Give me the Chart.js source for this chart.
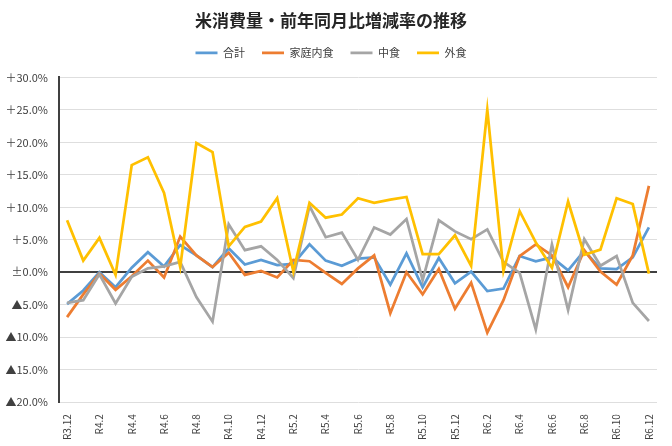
<!DOCTYPE html>
<html lang="ja">
<head>
<meta charset="utf-8">
<title>米消費量・前年同月比増減率の推移</title>
<script src="https://cdn.jsdelivr.net/npm/chart.js@4/dist/chart.umd.min.js"></script>
<style>
  body { margin: 0; background: #fff; }
  #wrap { width: 672px; height: 446px; }
</style>
</head>
<body>
<div id="wrap"><canvas id="riceChart" width="672" height="446"></canvas></div>
<script>
// Months (R3.12 - R6.12)
const months = [
  'R3.12',
  'R4.1', 'R4.2', 'R4.3', 'R4.4', 'R4.5', 'R4.6', 'R4.7', 'R4.8', 'R4.9', 'R4.10', 'R4.11', 'R4.12',
  'R5.1', 'R5.2', 'R5.3', 'R5.4', 'R5.5', 'R5.6', 'R5.7', 'R5.8', 'R5.9', 'R5.10', 'R5.11', 'R5.12',
  'R6.1', 'R6.2', 'R6.3', 'R6.4', 'R6.5', 'R6.6', 'R6.7', 'R6.8', 'R6.9', 'R6.10', 'R6.11', 'R6.12'
];

// Year-on-year change (%)
const total = [
  -4.9, -2.8, 0.0, -2.3, 0.7, 3.1, 0.9, 4.2, 2.6, 0.8, 3.7, 1.2, 1.9,
  1.1, 1.3, 4.3, 1.8, 1.0, 2.1, 2.3, -1.9, 2.9, -2.3, 2.2, -1.7,
  0.1, -2.9, -2.5, 2.5, 1.7, 2.3, 0.3, 3.3, 0.6, 0.5, 2.3, 6.9
];
const homeMeals = [
  -6.9, -3.4, -0.2, -2.7, -0.6, 1.8, -0.8, 5.5, 2.6, 0.8, 3.0, -0.4, 0.2,
  -0.8, 1.9, 1.7, -0.1, -1.8, 0.6, 2.6, -6.3, 0.0, -3.4, 0.5, -5.6,
  -1.6, -9.3, -4.3, 2.5, 4.3, 2.6, -2.3, 3.4, 0.1, -1.9, 2.6, 13.3
];
const readyMeals = [
  -4.7, -4.3, -0.3, -4.8, -0.7, 0.6, 0.9, 1.6, -3.8, -7.6, 7.4, 3.4, 4.0,
  1.9, -0.9, 10.2, 5.4, 6.1, 1.9, 6.9, 5.8, 8.2, -1.2, 8.0, 6.3,
  5.1, 6.6, 1.6, -0.1, -8.8, 4.3, -5.8, 5.1, 1.0, 2.5, -4.7, -7.5
];
const eatingOut = [
  8.0, 1.8, 5.3, -0.4, 16.5, 17.7, 12.2, 0.8, 19.9, 18.5, 4.0, 7.0, 7.8,
  11.4, 0.1, 10.7, 8.4, 8.9, 11.4, 10.7, 11.2, 11.6, 2.8, 2.8, 5.7,
  1.0, 25.0, 0.2, 9.4, 4.6, 0.7, 10.9, 2.7, 3.5, 11.4, 10.5, -0.2
];

// Series names and colours
const seriesNames = ['合計', '家庭内食', '中食', '外食'];
const seriesColors = ['#5B9BD5', '#ED7D31', '#A5A5A5', '#FFC000'];
const seriesData = [total, homeMeals, readyMeals, eatingOut];

const FONT = "'Noto Sans CJK JP', 'Noto Sans', sans-serif";
const TEXT_COLOR = '#404040';

function formatPercent(v) {
  if (v > 0) return '＋' + v.toFixed(1) + '%';
  if (v < 0) return '▲' + Math.abs(v).toFixed(1) + '%';
  return '±0.0%';
}

// a little extra room under the legend
const legendMargin = {
  id: 'legendMargin',
  beforeInit(chart) {
    const fit = chart.legend.fit;
    chart.legend.fit = function() {
      fit.bind(chart.legend)();
      this.height += 9;
    };
  }
};

const datasets = seriesNames.map((name, i) => ({
  label: name,
  data: seriesData[i],
  borderColor: seriesColors[i],
  backgroundColor: seriesColors[i],
  borderWidth: 2.75,
  pointRadius: 0,
  pointStyle: 'line',
  tension: 0,
  fill: false,
  // later series drawn on top, like the original
  order: seriesNames.length - i
}));

const ctx = document.getElementById('riceChart').getContext('2d');
new Chart(ctx, {
  type: 'line',
  data: {
    labels: months,
    datasets: datasets
  },
  plugins: [legendMargin],
  options: {
    responsive: false,
    animation: false,
    layout: {
      padding: { left: 5, right: 15, top: 0, bottom: 2 }
    },
    scales: {
      x: {
        offset: true,
        grid: { display: false },
        border: { display: false },
        ticks: {
          autoSkip: false,
          maxRotation: 90,
          minRotation: 90,
          padding: 4,
          color: TEXT_COLOR,
          font: { family: FONT, size: 10 },
          callback: function(val, idx) {
            return idx % 2 === 0 ? months[idx] : '';
          }
        }
      },
      y: {
        min: -20,
        max: 30,
        afterFit: scale => { scale.width = 54; },
        grid: {
          drawTicks: false,
          color: c => c.tick && c.tick.value === 0 ? '#404040' : '#dedede',
          lineWidth: c => c.tick && c.tick.value === 0 ? 2 : 1
        },
        border: { display: true, color: '#404040', width: 2 },
        ticks: {
          stepSize: 5,
          padding: 11,
          color: TEXT_COLOR,
          font: { family: FONT, size: 11 },
          callback: v => formatPercent(v)
        }
      }
    },
    plugins: {
      title: {
        display: true,
        text: '米消費量・前年同月比増減率の推移',
        color: '#262626',
        font: { family: FONT, size: 17, weight: 'bold' },
        padding: { top: 10, bottom: 0 }
      },
      legend: {
        position: 'top',
        labels: {
          usePointStyle: true,
          pointStyleWidth: 22,
          padding: 17,
          color: TEXT_COLOR,
          font: { family: FONT, size: 11 },
          sort: (a, b) => a.datasetIndex - b.datasetIndex
        }
      },
      tooltip: { enabled: false }
    }
  }
});
</script>
</body>
</html>
